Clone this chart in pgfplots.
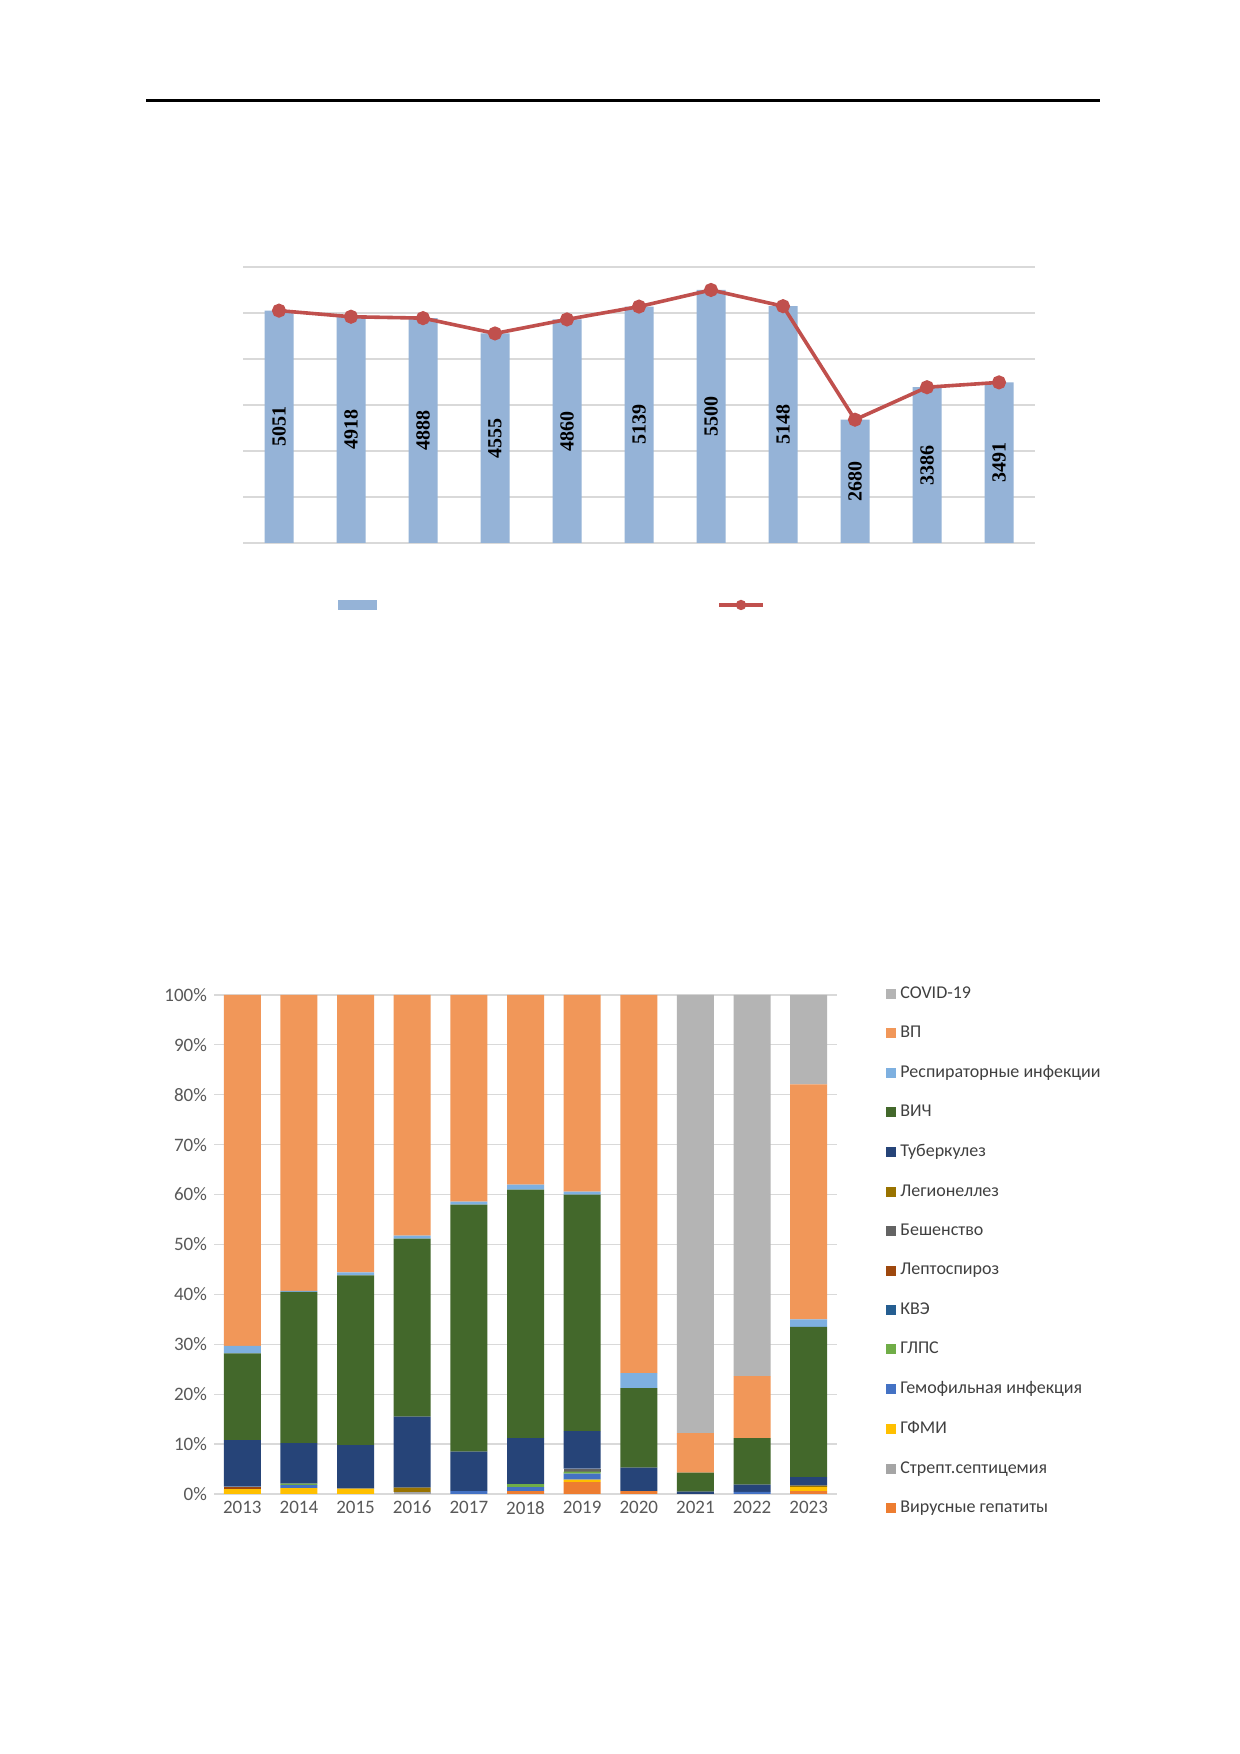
\documentclass[border=0pt]{standalone}
\usepackage{pgfplots}
\pgfplotsset{compat=1.18}
\usepackage{fontspec}
\setmainfont{Liberation Serif}
\newfontfamily\calib{Carlito}
\definecolor{barblue}{HTML}{95B3D7}
\definecolor{linered}{HTML}{C0504D}
\definecolor{cGep}{HTML}{ED7D31}
\definecolor{cStr}{HTML}{A5A5A5}
\definecolor{cGfmi}{HTML}{FFC000}
\definecolor{cGem}{HTML}{4472C4}
\definecolor{cGlps}{HTML}{70AD47}
\definecolor{cKve}{HTML}{255E91}
\definecolor{cLep}{HTML}{9E480E}
\definecolor{cBesh}{HTML}{636363}
\definecolor{cLeg}{HTML}{997300}
\definecolor{cTb}{HTML}{264478}
\definecolor{cHiv}{HTML}{43682B}
\definecolor{cResp}{HTML}{7EB0E0}
\definecolor{cVp}{HTML}{F19759}
\definecolor{cCov}{HTML}{B4B4B4}
\begin{document}
\begin{tikzpicture}
\fill[white] (0,0) rectangle (620pt,877pt);
\draw[line width=1.5pt] (73pt,826.5pt) -- (550pt,826.5pt);
% top chart
\begin{axis}[at={(121.5pt,605.5pt)}, anchor=south west, scale only axis,
  width=396pt, height=138pt, xmin=-0.5, xmax=10.5, ymin=0, ymax=6000,
  ytick={0,1000,...,6000}, yticklabels={}, xtick=\empty,
  axis line style={draw=none}, ymajorgrids, major grid style={draw=gray!30, line width=0.6pt},
  major tick length=0pt]
\addplot[ybar, bar width=14.5pt, fill=barblue, draw=none] coordinates {
(0,5051)(1,4918)(2,4888)(3,4555)(4,4860)(5,5139)(6,5500)(7,5148)(8,2680)(9,3386)(10,3491)};
\addplot[linered, line width=1.8pt, mark=*, mark size=2.6pt] coordinates {
(0,5051)(1,4918)(2,4888)(3,4555)(4,4860)(5,5139)(6,5500)(7,5148)(8,2680)(9,3386)(10,3491)};
\addplot[draw=none, nodes near coords, point meta=explicit symbolic,
  every node near coord/.style={rotate=90, anchor=center, font=\bfseries\fontsize{10}{12}\selectfont, black}] coordinates {
(0,2525)[5051](1,2459)[4918](2,2444)[4888](3,2277)[4555](4,2430)[4860](5,2570)[5139](6,2750)[5500](7,2574)[5148](8,1340)[2680](9,1693)[3386](10,1745)[3491]};
\end{axis}
\fill[barblue] (169pt,572pt) rectangle (188.5pt,577pt);
\draw[linered, line width=1.8pt] (359.5pt,574.5pt) -- (381.5pt,574.5pt);
\fill[linered] (370.5pt,574.5pt) circle (2.6pt);
% bottom chart
\begin{axis}[at={(107pt,130pt)}, anchor=south west, scale only axis,
  width=311.5pt, height=249.5pt, xmin=-0.5, xmax=10.5, ymin=0, ymax=100,
  ybar stacked, bar width=18.5pt,
  xtick={0,...,10}, xticklabels={2013,2014,2015,2016,2017,2018,2019,2020,2021,2022,2023},
  ytick={0,10,...,100}, yticklabels={0\%,10\%,20\%,30\%,40\%,50\%,60\%,70\%,80\%,90\%,100\%},
  ticklabel style={font=\calib\fontsize{9.5}{11}\selectfont, text=black!65},
  axis line style={draw=none}, ymajorgrids, major grid style={draw=gray!30, line width=0.6pt},
  major tick length=0pt,
  legend style={at={(1.069,1.034)}, anchor=north west, draw=none, fill=none,
    font=\calib\fontsize{9}{11}\selectfont, text=black!75, row sep=8.4pt, cells={anchor=west}},
  legend image code/.code={\fill[#1] (0pt,-2.5pt) rectangle (5pt,2.5pt);},
  reverse legend]
\addplot[fill=cGep, draw=none] coordinates {(0,0)(1,0)(2,0)(3,0)(4,0)(5,0.6)(6,2.4)(7,0.6)(8,0)(9,0)(10,0.6)};
\addlegendentry{Вирусные гепатиты}
\addplot[fill=cStr, draw=none] coordinates {(0,0)(1,0)(2,0)(3,0.4)(4,0)(5,0)(6,0)(7,0)(8,0)(9,0)(10,0)};
\addlegendentry{Стрепт.септицемия}
\addplot[fill=cGfmi, draw=none] coordinates {(0,1)(1,1.2)(2,1.1)(3,0)(4,0)(5,0)(6,0.5)(7,0)(8,0)(9,0)(10,0.8)};
\addlegendentry{ГФМИ}
\addplot[fill=cGem, draw=none] coordinates {(0,0)(1,0.6)(2,0)(3,0)(4,0.6)(5,0.8)(6,1.2)(7,0)(8,0)(9,0.4)(10,0)};
\addlegendentry{Гемофильная инфекция}
\addplot[fill=cGlps, draw=none] coordinates {(0,0)(1,0.3)(2,0)(3,0)(4,0)(5,0.6)(6,0.4)(7,0)(8,0)(9,0)(10,0)};
\addlegendentry{ГЛПС}
\addplot[fill=cKve, draw=none] coordinates {(0,0)(1,0)(2,0)(3,0)(4,0)(5,0)(6,0)(7,0)(8,0)(9,0)(10,0)};
\addlegendentry{КВЭ}
\addplot[fill=cLep, draw=none] coordinates {(0,0.5)(1,0)(2,0)(3,0)(4,0)(5,0)(6,0)(7,0)(8,0)(9,0)(10,0)};
\addlegendentry{Лептоспироз}
\addplot[fill=cBesh, draw=none] coordinates {(0,0)(1,0)(2,0)(3,0)(4,0)(5,0)(6,0.6)(7,0)(8,0)(9,0)(10,0)};
\addlegendentry{Бешенство}
\addplot[fill=cLeg, draw=none] coordinates {(0,0)(1,0)(2,0)(3,0.9)(4,0)(5,0)(6,0)(7,0)(8,0)(9,0)(10,0.3)};
\addlegendentry{Легионеллез}
\addplot[fill=cTb, draw=none] coordinates {(0,9.3)(1,8.1)(2,8.7)(3,14.2)(4,7.9)(5,9.2)(6,7.5)(7,4.7)(8,0.5)(9,1.5)(10,1.7)};
\addlegendentry{Туберкулез}
\addplot[fill=cHiv, draw=none] coordinates {(0,17.4)(1,30.3)(2,34)(3,35.7)(4,49.5)(5,49.8)(6,47.4)(7,15.9)(8,3.8)(9,9.3)(10,30.1)};
\addlegendentry{ВИЧ}
\addplot[fill=cResp, draw=none] coordinates {(0,1.5)(1,0.2)(2,0.6)(3,0.6)(4,0.6)(5,1.0)(6,0.6)(7,3.0)(8,0)(9,0)(10,1.5)};
\addlegendentry{Респираторные инфекции}
\addplot[fill=cVp, draw=none] coordinates {(0,70.3)(1,59.3)(2,55.6)(3,48.2)(4,41.4)(5,38)(6,39.4)(7,75.8)(8,7.9)(9,12.4)(10,47.1)};
\addlegendentry{ВП}
\addplot[fill=cCov, draw=none] coordinates {(0,0)(1,0)(2,0)(3,0)(4,0)(5,0)(6,0)(7,0)(8,87.8)(9,76.4)(10,17.9)};
\addlegendentry{COVID-19}
\end{axis}
\end{tikzpicture}
\end{document}
